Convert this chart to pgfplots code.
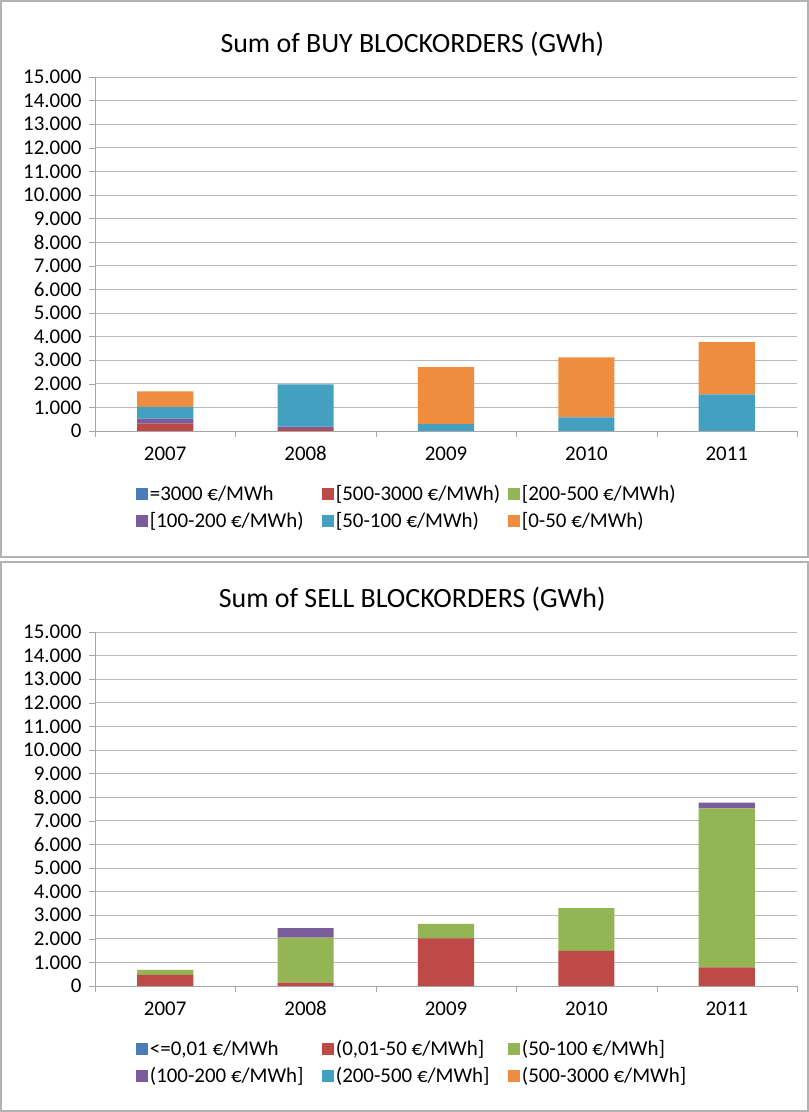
\documentclass[border=0pt]{standalone}
\usepackage{fontspec}
\setmainfont{Carlito}
\usepackage{pgfplots}
\usepackage{pgfplotstable}
\pgfplotsset{compat=1.18}

\definecolor{xblue}{HTML}{4A7CB8}
\definecolor{xred}{HTML}{BD4A47}
\definecolor{xgreen}{HTML}{93B553}
\definecolor{xpurple}{HTML}{7A5E9C}
\definecolor{xteal}{HTML}{43A0C0}
\definecolor{xorange}{HTML}{EE8D40}

\pgfplotstableread{
x blue red green purple teal orange
0 0 310 0 210 500 660
1 0 80 0 110 1790 0
2 0 0 0 0 290 2420
3 0 0 0 0 580 2540
4 0 0 0 0 1550 2220
}\buydata

\pgfplotstableread{
x blue red green purple teal orange
0 0 470 210 0 0 0
1 0 140 1910 400 0 0
2 0 2020 610 0 0 0
3 0 1490 1810 0 0 0
4 0 790 6740 240 0 0
}\selldata

\newcommand{\lb}[1]{\makebox[170bp][l]{#1}}

\pgfplotsset{
  blockstyle/.style={
    scale only axis, width=702bp, height=354bp,
    anchor=south west,
    ybar stacked, bar width=0.4,
    xmin=-0.5, xmax=4.5, ymin=0, ymax=15000,
    xtick={0,1,2,3,4}, xticklabels={2007,2008,2009,2010,2011},
    minor xtick={-0.5,0.5,1.5,2.5,3.5,4.5},
    major x tick style={draw=none},
    minor x tick style={draw=gray!70},
    minor tick length=6bp,
    major tick length=6bp,
    tick align=outside,
    ytick={0,1000,...,15000},
    y tick style={draw=gray!70},
    scaled y ticks=false,
    yticklabel style={/pgf/number format/1000 sep={.}, /pgf/number format/assume math mode=true,
      /tikz/xshift=-4bp, /tikz/font=\fontsize{21}{25}\selectfont},
    xticklabel style={yshift=-6bp, font=\fontsize{21}{25}\selectfont},
    tick label style={text=black},
    axis x line*=bottom, axis y line*=left,
    axis line style={-, gray!70, line width=0.8bp},
    ymajorgrids, grid style={gray!55, line width=0.8bp},
    legend columns=3,
    legend cell align=left,
    legend style={draw=none, fill=none, at={(0.058,-0.148)}, anchor=north west,
      inner sep=0pt, nodes={inner sep=2bp},
      font=\fontsize{21}{25}\selectfont, text=black, row sep=6bp,
      /tikz/every even column/.append style={column sep=0bp}},
    legend image code/.code={\fill[##1,draw=none] (0bp,-6bp) rectangle (12bp,6bp);},
    every axis plot/.append style={draw=none},
    title style={at={(0.452,1.076)}, anchor=center, font=\fontsize{28}{33}\selectfont, text=black},
  }
}

\begin{document}
\begin{tikzpicture}[x=1bp,y=1bp]
\useasboundingbox (0,0) rectangle (809,1112);
\fill[white] (0,0) rectangle (809,1112);
\draw[gray!60, line width=1.5bp] (1,555) rectangle (808,1111);
\draw[gray!60, line width=1.5bp] (1,1) rectangle (808,550);

\begin{axis}[blockstyle, at={(95bp,681bp)}, title={Sum of BUY BLOCKORDERS (GWh)}]
\addplot[fill=xblue] table[x=x,y=blue] {\buydata};
\addlegendentry{\lb{=3000 €/MWh}}
\addplot[fill=xred] table[x=x,y=red] {\buydata};
\addlegendentry{\lb{[500-3000 €/MWh)}}
\addplot[fill=xgreen] table[x=x,y=green] {\buydata};
\addlegendentry{\lb{[200-500 €/MWh)}}
\addplot[fill=xpurple] table[x=x,y=purple] {\buydata};
\addlegendentry{\lb{[100-200 €/MWh)}}
\addplot[fill=xteal] table[x=x,y=teal] {\buydata};
\addlegendentry{\lb{[50-100 €/MWh)}}
\addplot[fill=xorange] table[x=x,y=orange] {\buydata};
\addlegendentry{\lb{[0-50 €/MWh)}}
\end{axis}

\begin{axis}[blockstyle, at={(95bp,126bp)}, title={Sum of SELL BLOCKORDERS (GWh)}]
\addplot[fill=xblue] table[x=x,y=blue] {\selldata};
\addlegendentry{\lb{<=0,01 €/MWh}}
\addplot[fill=xred] table[x=x,y=red] {\selldata};
\addlegendentry{\lb{(0,01-50 €/MWh]}}
\addplot[fill=xgreen] table[x=x,y=green] {\selldata};
\addlegendentry{\lb{(50-100 €/MWh]}}
\addplot[fill=xpurple] table[x=x,y=purple] {\selldata};
\addlegendentry{\lb{(100-200 €/MWh]}}
\addplot[fill=xteal] table[x=x,y=teal] {\selldata};
\addlegendentry{\lb{(200-500 €/MWh]}}
\addplot[fill=xorange] table[x=x,y=orange] {\selldata};
\addlegendentry{\lb{(500-3000 €/MWh]}}
\end{axis}
\end{tikzpicture}
\end{document}
